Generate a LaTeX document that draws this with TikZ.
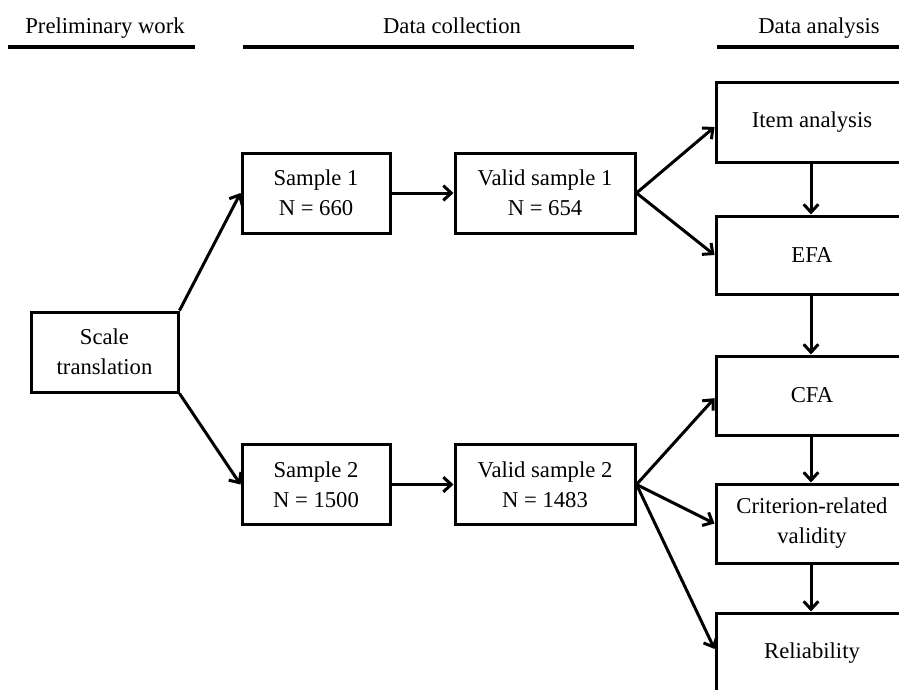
\documentclass[tikz,border=0pt]{standalone}
\usepackage{fontspec}
\setmainfont{Liberation Serif}
\usetikzlibrary{arrows.meta}
\begin{document}
\begin{tikzpicture}[x=0.75pt,y=-0.75pt,
  line width=2.25pt,
  >={Straight Barb[length=6pt,width=11pt,line width=2.25pt]},
  box/.style={draw,line width=2.25pt,rectangle,inner sep=0pt,align=center,
    font=\fontsize{17}{22.5}\selectfont},
  hdr/.style={anchor=base,inner sep=0pt,font=\fontsize{17}{20}\selectfont},
  conn/.style={->,line width=2.25pt}]
\useasboundingbox (0,0) rectangle (899,689);
\clip (0,0) rectangle (899,689);
% headers
\node[hdr] (h1) at (105,33) {Preliminary work};
\node[hdr] (h2) at (452,33) {Data collection};
\node[hdr] (h3) at (819,33) {Data analysis};
\draw[line width=3pt] (8,47) -- (195,47);
\draw[line width=3pt] (243,47) -- (634,47);
\draw[line width=3pt] (717,47) -- (905,47);
% left boxes
\node[box,minimum width=110.25pt,minimum height=60pt] (st) at (104.5,352) {Scale\\translation};
\node[box,minimum width=111pt,minimum height=60pt] (s1) at (316,193) {Sample 1\\N = 660};
\node[box,minimum width=111pt,minimum height=60pt] (s2) at (316,484.5) {Sample 2\\N = 1500};
\node[box,minimum width=135pt,minimum height=60pt] (v1) at (545,193) {Valid sample 1\\N = 654};
\node[box,minimum width=135pt,minimum height=60pt] (v2) at (545,484.5) {Valid sample 2\\N = 1483};
% right boxes
\node[box,minimum width=144pt,minimum height=60pt] (ia) at (812,122) {Item analysis};
\node[box,minimum width=144pt,minimum height=58.5pt] (efa) at (812,255) {EFA};
\node[box,minimum width=144pt,minimum height=59.25pt] (cfa) at (812,395.5) {CFA};
\node[box,minimum width=144pt,minimum height=59.25pt] (crv) at (812,523.5) {Criterion-related\\validity};
\node[box,minimum width=144pt,minimum height=60pt] (rel) at (812,653) {Reliability};
% connectors
\draw[conn] (st.north east) -- (s1.west);
\draw[conn] (st.south east) -- (s2.west);
\draw[conn] (s1) -- (v1);
\draw[conn] (s2) -- (v2);
\draw[conn] (v1.east) -- ([yshift=-3.75pt]ia.west);
\draw[conn] (v1.east) -- (efa.west);
\draw[conn] (v2.east) -- ([yshift=-2pt]cfa.west);
\draw[conn] (v2.east) -- (crv.west);
\draw[conn] (v2.east) -- ([yshift=3pt]rel.west);
\draw[conn] (ia.south -| 811,0) -- (efa.north -| 811,0);
\draw[conn] (efa.south -| 811,0) -- (cfa.north -| 811,0);
\draw[conn] (cfa.south -| 811,0) -- (crv.north -| 811,0);
\draw[conn] (crv.south -| 811,0) -- (rel.north -| 811,0);
\end{tikzpicture}
\end{document}
